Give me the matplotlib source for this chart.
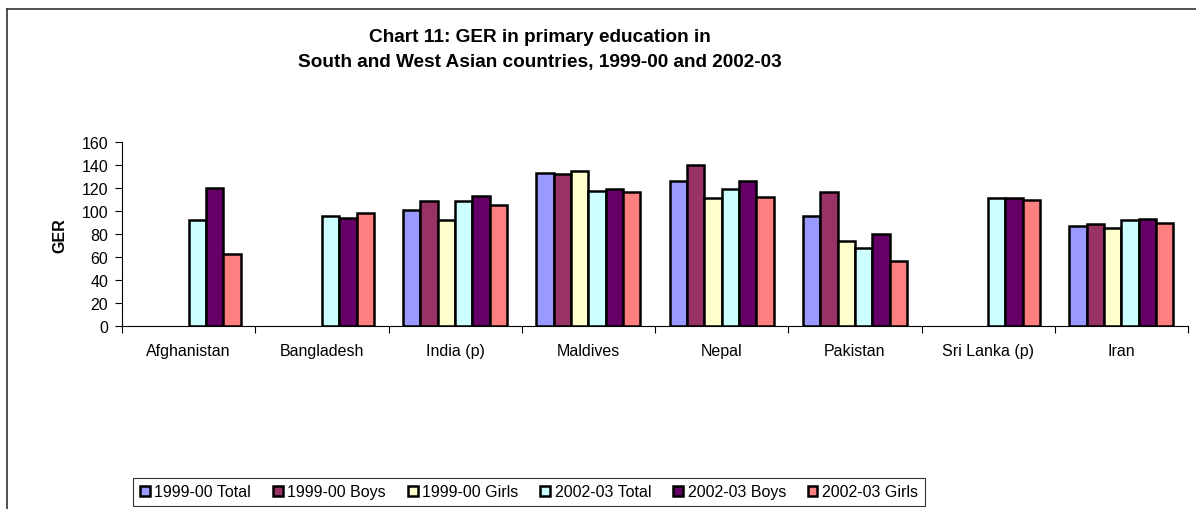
import numpy as np
import matplotlib
matplotlib.use("Agg")
import matplotlib.pyplot as plt
from matplotlib.lines import Line2D

plt.rcParams['font.family'] = ['Liberation Sans', 'DejaVu Sans']

countries = ["Afghanistan", "Bangladesh", "India (p)", "Maldives", "Nepal",
             "Pakistan", "Sri Lanka (p)", "Iran"]
series_names = ["1999-00 Total", "1999-00 Boys", "1999-00 Girls",
                "2002-03 Total", "2002-03 Boys", "2002-03 Girls"]
nan = np.nan
total_9900 = [nan, nan, 101, 133.5, 126.5, 96, nan, 87]
boys_9900 = [nan, nan, 109, 132.5, 140, 116.5, nan, 89]
girls_9900 = [nan, nan, 92.5, 134.5, 111.5, 74, nan, 85.5]
total_0203 = [92, 96, 109, 117.5, 119, 68, 111, 92]
boys_0203 = [120, 94, 113, 119, 126, 80, 111, 93.5]
girls_0203 = [63, 98, 105.5, 117, 112, 57, 110, 89.5]
colors = ["#9999FF", "#993366", "#FFFFCC", "#CCFFFF", "#660066", "#FF8080"]

series = [total_9900, boys_9900, girls_9900, total_0203, boys_0203, girls_0203]

W, H = 1196, 510
fig = plt.figure(figsize=(W / 100, H / 100), dpi=100)
ax = fig.add_axes([122 / W, 1 - 327.3 / H, (1188 - 122) / W, (327.3 - 143) / H])

x = np.arange(len(countries))
bw = 0.13
for i, (vals, c, name) in enumerate(zip(series, colors, series_names)):
    ax.bar(x + (i - 3) * bw, vals, width=bw, align="edge", color=c,
           edgecolor="black", linewidth=1.8, label=name)

ax.set_xlim(-0.5, len(countries) - 0.5)
ax.set_ylim(0, 160)
ax.set_yticks(np.arange(0, 161, 20))
ax.set_xticks(x)
ax.set_xticklabels(countries, fontsize=11.5)
ax.set_xticks(np.arange(-0.5, len(countries), 1), minor=True)
ax.tick_params(axis="x", which="major", length=0, pad=12)
ax.tick_params(axis="x", which="minor", length=5, direction="out", width=0.8)
ax.tick_params(axis="y", length=5, direction="out", width=0.8, labelsize=11.5, pad=5)
for s in ["top", "right"]:
    ax.spines[s].set_visible(False)
for s in ["left", "bottom"]:
    ax.spines[s].set_linewidth(0.8)
ax.set_ylabel("GER", fontsize=11.5, fontweight="bold", labelpad=10)

fig.text(540 / W, 1 - 37.5 / H, "Chart 11: GER in primary education in",
         ha="center", va="center", fontsize=13.7, fontweight="bold")
fig.text(540 / W, 1 - 63 / H, "South and West Asian countries, 1999-00 and 2002-03",
         ha="center", va="center", fontsize=13.7, fontweight="bold")

# outer chart frame
fig.add_artist(Line2D([7 / W, 7 / W], [0, 1 - 10 / H], transform=fig.transFigure,
                      color="#333333", linewidth=1.2))
fig.add_artist(Line2D([7 / W, 1], [1 - 10 / H, 1 - 10 / H], transform=fig.transFigure,
                      color="#333333", linewidth=1.2))

leg = fig.legend(loc="center", bbox_to_anchor=(529 / W, 1 - 493 / H), ncol=6,
                 fontsize=11.5, frameon=True, fancybox=False, edgecolor="black",
                 handlelength=0.62, handleheight=0.62, handletextpad=0.3,
                 columnspacing=1.35, borderpad=0.4, borderaxespad=0)
leg.get_frame().set_linewidth(0.8)

fig.savefig("out.png", dpi=100)
